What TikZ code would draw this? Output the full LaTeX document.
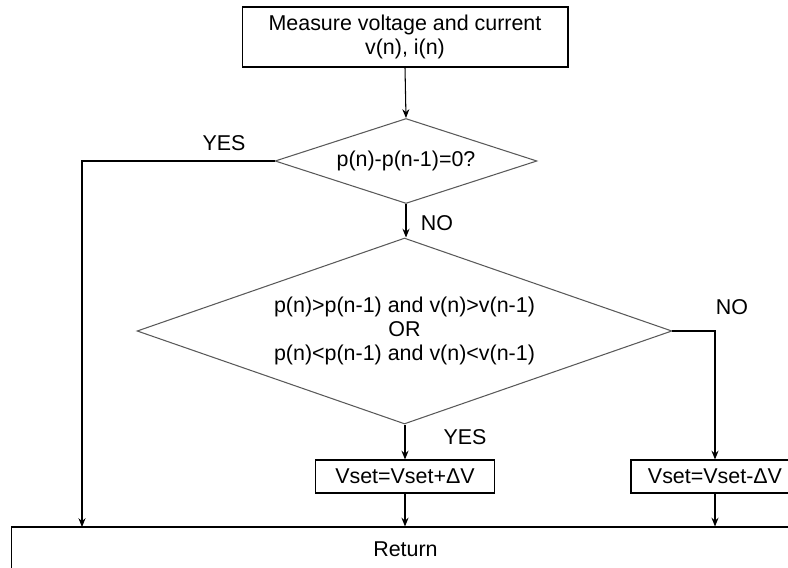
\documentclass[tikz,border=0pt]{standalone}
\usepackage{fontspec}
\setmainfont{Liberation Sans}
\usetikzlibrary{shapes.geometric,arrows.meta}

\tikzset{
  block/.style={draw, line width=0.6pt, inner sep=0pt, align=center},
  decision/.style={draw=black!65, line width=0.6pt, diamond, inner sep=0pt, align=center},
  flow/.style={line width=0.6pt, -{Stealth[length=5pt,width=4pt]}},
  lbl/.style={inner sep=0pt}
}

\begin{document}
\begin{tikzpicture}[x=0.02cm,y=-0.02cm,font=\fontsize{12.2}{13.6}\selectfont]
						\useasboundingbox (0,0) rectangle (788,568);
						\node[block, minimum width=6.52cm, minimum height=1.2cm] (measure) at (405,37) {Measure voltage and current\\v(n), i(n)};
						\node[decision, shape aspect=3.08, minimum width=5.24cm, minimum height=1.7cm] (zero) at (406,161) {p(n)-p(n-1)=0?};
						\node[decision, shape aspect=2.88, minimum width=10.7cm, minimum height=3.72cm] (cmp) at (404.5,331) {p(n)>p(n-1) and v(n)>v(n-1)\\OR\\p(n)<p(n-1) and v(n)<v(n-1)};
						\node[block, minimum width=3.58cm, minimum height=0.66cm] (inc) at (405,476.5) {Vset=Vset+ΔV};
						\node[block, minimum width=3.36cm, minimum height=0.66cm] (dec) at (715,476.5) {Vset=Vset-ΔV};
						\node[block, minimum width=15.78cm, minimum height=0.88cm] (ret) at (405.5,549) {Return};
						
						\node[lbl] (yesA) at (224,143) {YES};
						\node[lbl] (noA) at (437,223) {NO};
						\node[lbl] (noB) at (732,307) {NO};
						\node[lbl] (yesB) at (465,437) {YES};
						
						\coordinate (skip) at (82,527);
						\draw[flow] (measure.south) -- (zero.north);
						\draw[flow] (zero.south) -- (zero.south |- cmp.north);
						\draw[flow] (zero.west) -| (skip);
						\draw[flow] (cmp.south -| inc.north) -- (inc.north);
						\draw[flow] (cmp.east) -| (dec.north);
						\draw[flow] (inc.south) -- (inc.south |- ret.north);
						\draw[flow] (dec.south) -- (dec.south |- ret.north);
					\end{tikzpicture}
\end{document}
